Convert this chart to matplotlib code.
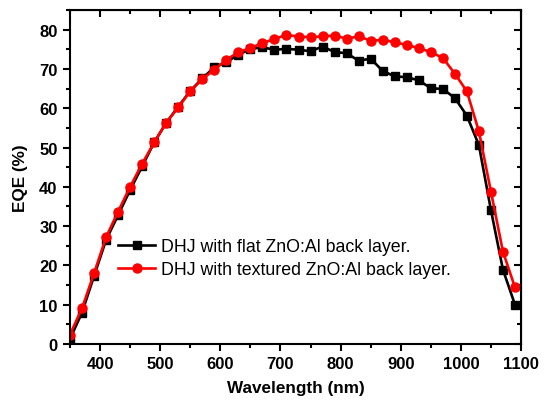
import matplotlib
matplotlib.use("Agg")
import matplotlib.pyplot as plt
from matplotlib.ticker import MultipleLocator

plt.rcParams['font.family'] = ['Liberation Sans', 'DejaVu Sans']

wavelength = list(range(350, 1091, 20))
flat = [1.3, 8.0, 17.3, 26.5, 32.8, 39.2, 45.2, 51.3, 56.3, 60.4, 64.4, 67.6, 70.4,
        71.8, 73.6, 75.1, 75.5, 74.9, 75.1, 74.9, 74.5, 75.7, 74.3, 74.0, 72.1, 72.6,
        69.5, 68.1, 67.9, 67.1, 65.1, 64.9, 62.6, 58.1, 50.6, 34.1, 18.9, 10.0]
textured = [2.4, 9.1, 18.0, 27.2, 33.7, 40.0, 45.9, 51.3, 56.3, 60.2, 64.3, 67.4, 69.8,
            72.3, 74.3, 75.3, 76.6, 77.6, 78.7, 78.2, 78.1, 78.3, 78.5, 77.7, 78.3, 77.2,
            77.4, 76.8, 76.1, 75.3, 74.3, 72.8, 68.8, 64.3, 54.1, 38.8, 23.5, 14.4]

labels = ["DHJ with flat ZnO:Al back layer.", "DHJ with textured ZnO:Al back layer."]

fig = plt.figure(figsize=(5.47, 4.06), dpi=100)
ax = fig.add_axes([70/547, 1 - 345/406, (521-70)/547, (345-11)/406])

ax.plot(wavelength, flat, color='black', lw=1.9, marker='s', ms=5.5, label=labels[0])
ax.plot(wavelength, textured, color='red', lw=1.9, marker='o', ms=6.5, label=labels[1])

ax.set_xlim(350, 1100)
ax.set_ylim(0, 85)
ax.xaxis.set_major_locator(MultipleLocator(100))
ax.xaxis.set_minor_locator(MultipleLocator(50))
ax.yaxis.set_major_locator(MultipleLocator(10))
ax.yaxis.set_minor_locator(MultipleLocator(5))
ax.set_xticks([400, 500, 600, 700, 800, 900, 1000, 1100])

for s in ax.spines.values():
    s.set_linewidth(1.5)

ax.tick_params(which='both', direction='out', width=1.5, labelsize=12, pad=4)
ax.tick_params(which='major', length=5)
ax.tick_params(which='minor', length=3)
for lbl in ax.get_xticklabels() + ax.get_yticklabels():
    lbl.set_fontweight('bold')

# top/right ticks inward, no labels
axt = ax.secondary_xaxis('top')
axt.xaxis.set_major_locator(MultipleLocator(100))
axt.xaxis.set_minor_locator(MultipleLocator(50))
axt.tick_params(which='both', direction='in', width=1.5, labeltop=False)
axt.tick_params(which='major', length=5)
axt.tick_params(which='minor', length=3)
axr = ax.secondary_yaxis('right')
axr.yaxis.set_major_locator(MultipleLocator(10))
axr.yaxis.set_minor_locator(MultipleLocator(5))
axr.tick_params(which='both', direction='in', width=1.5, labelright=False)
axr.tick_params(which='major', length=5)
axr.tick_params(which='minor', length=3)

ax.set_xlabel("Wavelength (nm)", fontsize=12.3, fontweight='bold', labelpad=6)
ax.set_ylabel("EQE (%)", fontsize=12.3, fontweight='bold', labelpad=8)

ax.legend(loc='upper left', bbox_to_anchor=(0.091, 0.338), frameon=False, fontsize=12.8,
          handlelength=2.1, handletextpad=0.3, labelspacing=0.35, borderaxespad=0)

fig.savefig("out.png", dpi=100)
